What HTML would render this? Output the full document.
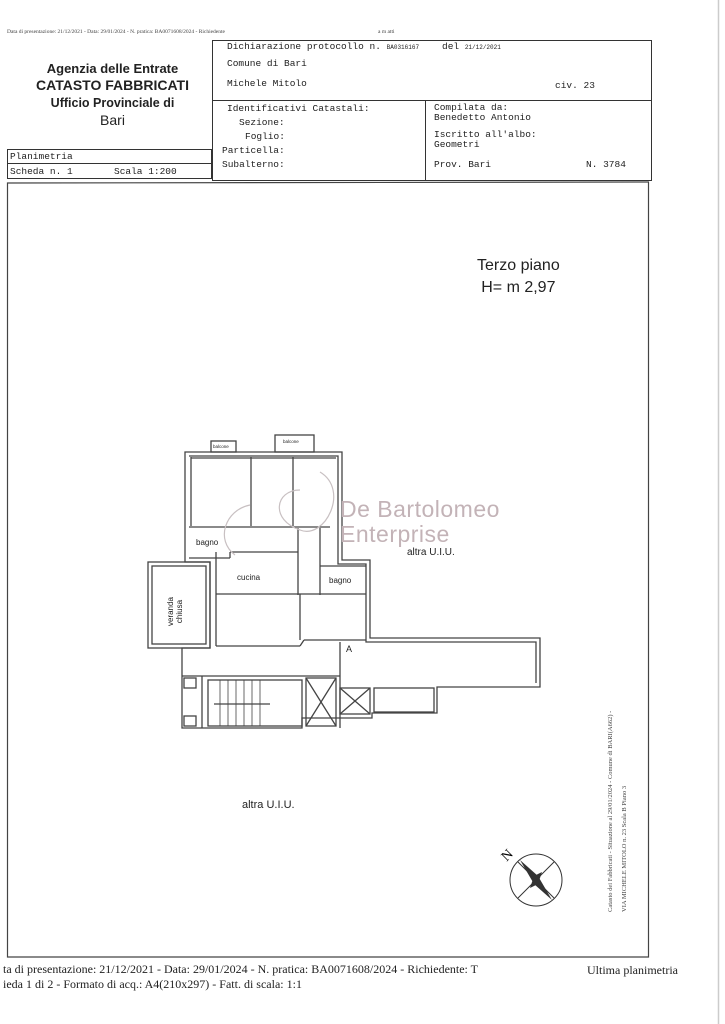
<!DOCTYPE html>
<html><head><meta charset="utf-8"><style>
body{margin:0;width:725px;height:1024px;background:#fff;position:relative;overflow:hidden;font-family:"Liberation Sans",sans-serif;color:#222}
.a{position:absolute;white-space:nowrap}
.m{font-family:"Liberation Mono",monospace;font-size:9.5px;color:#222}
.s{font-family:"Liberation Serif",serif}
</style></head><body>
<div class="a s" style="left:7px;top:29px;font-size:5.5px;color:#444">Data di presentazione: 21/12/2021 - Data: 29/01/2024 - N. pratica: BA0071608/2024 - Richiedente</div>
<div class="a s" style="left:378px;top:29px;font-size:5.5px;color:#444">a m atti</div>

<div class="a" style="left:20px;top:60px;width:185px;text-align:center;font-size:13px;font-weight:bold;line-height:17px">Agenzia delle Entrate<br><span style="font-size:14px">CATASTO FABBRICATI</span><br><span style="font-size:12.5px">Ufficio Provinciale di</span><br><span style="font-size:14px;font-weight:normal">Bari</span></div>

<svg class="a" style="left:0;top:0" width="725" height="1024">
<g fill="none" stroke="#333" stroke-width="1">
<rect x="212.5" y="40.5" width="439" height="140"/>
<line x1="212" y1="100.5" x2="652" y2="100.5"/>
<line x1="425.5" y1="100" x2="425.5" y2="180"/>
<rect x="7.5" y="149.5" width="204" height="29"/>
<line x1="7" y1="163.5" x2="212" y2="163.5"/>
<path d="M7.5 183 L648.5 182 L648.5 957 L7.5 957 Z" stroke="#444" stroke-width="1.2"/>
</g>
<line x1="718.5" y1="0" x2="718.5" y2="1024" stroke="#ccc" stroke-width="1.5"/>

<g fill="none" stroke="#444" stroke-width="1.3">
<path d="M185 452 L342 452 L342 560 L370 560 L370 638 L540 638 L540 687 L437 687 L437 713 L372 713 L372 718 L302 718 L302 728 L182 728 L182 648 L210 648 L210 562 L185 562 Z"/>
<path d="M189 456 L338 456 L338 564 L366 564 L366 642 L536 642 L536 683"/>
<rect x="148" y="562" width="62" height="86"/>
<rect x="152" y="566" width="54" height="78"/>
<rect x="211" y="441" width="25" height="11"/>
<rect x="275" y="435" width="39" height="17"/>
<line x1="191" y1="457" x2="191" y2="526"/><line x1="251" y1="457" x2="251" y2="526"/><line x1="293" y1="457" x2="293" y2="526"/>
<line x1="191" y1="458" x2="336" y2="458"/>
<line x1="189" y1="527" x2="330" y2="527"/>
<line x1="189" y1="558" x2="230" y2="558"/>
<line x1="230" y1="552" x2="298" y2="552"/><line x1="230" y1="552" x2="230" y2="558"/>
<line x1="298" y1="528" x2="298" y2="595"/>
<line x1="320" y1="528" x2="320" y2="595"/>
<line x1="216" y1="552" x2="216" y2="646"/>
<line x1="216" y1="594" x2="366" y2="594"/>
<line x1="320" y1="566" x2="366" y2="566"/>
<line x1="300" y1="594" x2="300" y2="640"/>
<line x1="216" y1="646" x2="300" y2="646"/><line x1="300" y1="646" x2="304" y2="640"/><line x1="304" y1="640" x2="366" y2="640"/>
<line x1="182" y1="676" x2="340" y2="676"/>
<line x1="340" y1="642" x2="340" y2="728"/>
<line x1="202" y1="676" x2="202" y2="728"/>
<rect x="208" y="680" width="94" height="46"/>
<line x1="214" y1="704" x2="270" y2="704"/>
<g stroke-width=".8"><line x1="220" y1="680" x2="220" y2="726"/><line x1="228" y1="680" x2="228" y2="726"/><line x1="236" y1="680" x2="236" y2="726"/><line x1="244" y1="680" x2="244" y2="726"/><line x1="252" y1="680" x2="252" y2="726"/><line x1="260" y1="680" x2="260" y2="726"/></g>
<rect x="306" y="678" width="30" height="48"/><line x1="306" y1="678" x2="336" y2="726"/><line x1="336" y1="678" x2="306" y2="726"/>
<rect x="340" y="688" width="30" height="26"/><line x1="340" y1="688" x2="370" y2="714"/><line x1="370" y1="688" x2="340" y2="714"/>
<rect x="374" y="688" width="60" height="24"/>
<rect x="184" y="678" width="12" height="10"/><rect x="184" y="716" width="12" height="10"/>
</g>
<g fill="none" stroke="#c8c0c2" stroke-width="1.2"><path d="M320 472 C350 490 325 540 300 530 C270 520 275 490 300 490"/><path d="M250 505 C225 510 215 540 235 555"/></g>
<g stroke="#333" fill="none"><circle cx="536" cy="880" r="26"/><line x1="518" y1="862" x2="554" y2="898"/><line x1="554" y1="862" x2="518" y2="898"/></g>
<path d="M520 860 L538 876 L552 900 L534 884 Z M530 888 L534 876 L542 872 L538 884 Z" fill="#333"/>
<text x="500" y="858" font-family="Liberation Serif,serif" font-size="14" transform="rotate(-45 508 852)">N</text>
<text x="0" y="0" font-family="Liberation Serif,serif" font-size="6.5" fill="#444" transform="translate(612 912) rotate(-90)">Catasto dei Fabbricati - Situazione al 29/01/2024 - Comune di BARI(A662) -</text>
<text x="0" y="0" font-family="Liberation Serif,serif" font-size="6.5" fill="#444" transform="translate(626 912) rotate(-90)">VIA MICHELE MITOLO n. 23 Scala B Piano 3</text>
</svg>

<div class="a m" style="left:227px;top:41px">Dichiarazione protocollo n. <span style="font-size:6px">BA0316167</span></div>
<div class="a m" style="left:442px;top:41px">del <span style="font-size:6px">21/12/2021</span></div>
<div class="a m" style="left:227px;top:58px">Comune di Bari</div>
<div class="a m" style="left:227px;top:78px">Michele Mitolo</div>
<div class="a m" style="left:555px;top:80px">civ. 23</div>
<div class="a m" style="left:227px;top:103px">Identificativi Catastali:</div>
<div class="a m" style="left:239px;top:117px">Sezione:</div>
<div class="a m" style="left:245px;top:131px">Foglio:</div>
<div class="a m" style="left:222px;top:145px">Particella:</div>
<div class="a m" style="left:222px;top:159px">Subalterno:</div>
<div class="a m" style="left:434px;top:103px;line-height:10px">Compilata da:<br>Benedetto Antonio</div>
<div class="a m" style="left:434px;top:130px;line-height:10px">Iscritto all'albo:<br>Geometri</div>
<div class="a m" style="left:434px;top:159px">Prov. Bari</div>
<div class="a m" style="left:586px;top:159px">N. 3784</div>
<div class="a m" style="left:10px;top:151px">Planimetria</div>
<div class="a m" style="left:10px;top:166px">Scheda n. 1</div>
<div class="a m" style="left:114px;top:166px">Scala 1:200</div>

<div class="a" style="left:477px;top:255px;font-size:16px;line-height:22px;text-align:center">Terzo piano<br>H= m 2,97</div>
<div class="a" style="left:340px;top:497px;font-size:23px;color:#c3b3b7;font-family:'Liberation Sans',sans-serif;font-weight:300;line-height:25px;letter-spacing:0.5px">De Bartolomeo<br>Enterprise</div>
<div class="a" style="left:407px;top:547px;font-size:10px">altra U.I.U.</div>
<div class="a" style="left:242px;top:799px;font-size:11px">altra U.I.U.</div>
<div class="a" style="left:196px;top:538px;font-size:8px">bagno</div>
<div class="a" style="left:237px;top:573px;font-size:8px">cucina</div>
<div class="a" style="left:329px;top:576px;font-size:8px">bagno</div>
<div class="a" style="left:346px;top:644px;font-size:9px">A</div>
<div class="a" style="left:213px;top:444px;font-size:4.5px">balcone</div>
<div class="a" style="left:283px;top:439px;font-size:4.5px">balcone</div>
<div class="a" style="left:166px;top:626px;font-size:8px;transform:rotate(-90deg);transform-origin:0 0;line-height:9px;text-align:center">veranda<br>chiusa</div>

<div class="a s" style="left:3px;top:962px;font-size:12px;line-height:15px">ta di presentazione: 21/12/2021 - Data: 29/01/2024 - N. pratica: BA0071608/2024 - Richiedente: T<br>ieda 1 di 2 - Formato di acq.: A4(210x297) - Fatt. di scala: 1:1</div>
<div class="a s" style="left:587px;top:963px;font-size:12px">Ultima planimetria</div>
</body></html>
